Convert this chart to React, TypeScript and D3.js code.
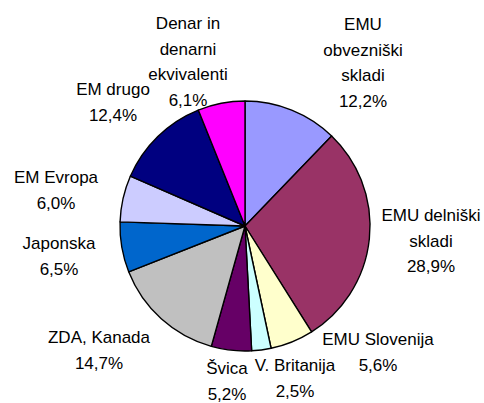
import React from "react";
import * as d3 from "d3";

// portfolio structure, clockwise from 12 o'clock
const categories = [
  "EMU obvezniški skladi",
  "EMU delniški skladi",
  "EMU Slovenija",
  "V. Britanija",
  "Švica",
  "ZDA, Kanada",
  "Japonska",
  "EM Evropa",
  "EM drugo",
  "Denar in denarni ekvivalenti",
];
const shares = [12.2, 28.9, 5.6, 2.5, 5.2, 14.7, 6.5, 6.0, 12.4, 6.1];
const shareLabels = ["12,2%", "28,9%", "5,6%", "2,5%", "5,2%", "14,7%", "6,5%", "6,0%", "12,4%", "6,1%"];

// how each label is broken into lines (name lines, then the percent)
const labelLines = [
  ["EMU", "obvezniški", "skladi"],
  ["EMU delniški", "skladi"],
  ["EMU Slovenija"],
  ["V. Britanija"],
  ["Švica"],
  ["ZDA, Kanada"],
  ["Japonska"],
  ["EM Evropa"],
  ["EM drugo"],
  ["Denar in", "denarni", "ekvivalenti"],
];

const colors = ["#9999FF", "#993366", "#FFFFCC", "#CCFFFF", "#660066", "#C0C0C0", "#0066CC", "#CCCCFF", "#000080", "#FF00FF"];

// label anchor: center x, first baseline y
const labelPos: [number, number][] = [
  [363, 30],
  [431, 221],
  [378, 345],
  [295, 371],
  [227, 374],
  [99, 343],
  [59, 249],
  [56, 183],
  [113, 95],
  [188, 29],
];

const W = 484;
const H = 403;
const cx = 245;
const cy = 226;
const R = 125;
const lineH = 25.5;

export default function App() {
  const pie = d3.pie<number>().sort(null).value((d) => d)(shares);
  const arc = d3.arc<d3.PieArcDatum<number>>().innerRadius(0).outerRadius(R);

  return (
    <div style={{ position: "absolute", left: 0, top: 0 }}>
      <svg width={W} height={H} style={{ display: "block", background: "#fff" }}>
        <g transform={`translate(${cx},${cy})`}>
          {pie.map((p, i) => (
            <path key={categories[i]} d={arc(p) || ""} fill={colors[i]} stroke="#000" strokeWidth={1.4} strokeLinejoin="round" />
          ))}
        </g>
        <g fontFamily="'Liberation Sans', Arial, sans-serif" fontSize={17} fill="#000" textAnchor="middle">
          {labelLines.map((lines, i) => {
            const [x, y] = labelPos[i];
            const all = [...lines, shareLabels[i]];
            return (
              <text key={categories[i]} x={x} y={y}>
                {all.map((t, j) => (
                  <tspan key={j} x={x} y={y + j * lineH}>
                    {t}
                  </tspan>
                ))}
              </text>
            );
          })}
        </g>
      </svg>
    </div>
  );
}
